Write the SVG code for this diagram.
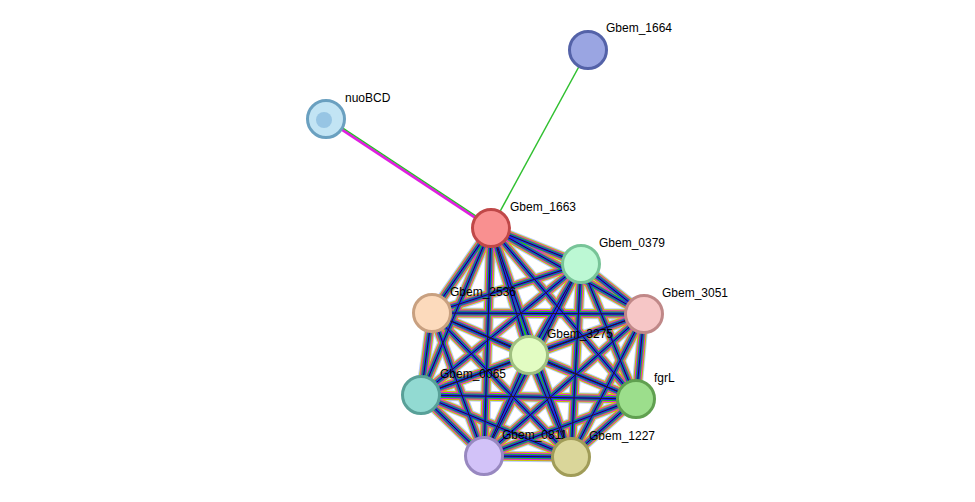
<svg xmlns="http://www.w3.org/2000/svg" xmlns:xlink="http://www.w3.org/1999/xlink" width="975" height="502" viewBox="0 0 975 502">
<style>
text{font-family:"Liberation Sans",Arial,sans-serif;font-size:12px;fill:#000}
.n{stroke-width:3}
</style>
<defs>
<g id="net" fill="none">
<path d="M491,228L581,264M491,228L644,314M491,228L432,313M491,228L529,355M491,228L421,395M491,228L636,399M491,228L484,456M491,228L571,457"/>
<path d="M581,264L644,314M581,264L432,313M581,264L529,355M581,264L421,395M581,264L636,399M581,264L484,456M581,264L571,457"/>
<path d="M644,314L432,313M644,314L529,355M644,314L421,395M644,314L636,399M644,314L484,456M644,314L571,457"/>
<path d="M432,313L529,355M432,313L421,395M432,313L636,399M432,313L484,456M432,313L571,457"/>
<path d="M529,355L421,395M529,355L636,399M529,355L484,456M529,355L571,457"/>
<path d="M421,395L636,399M421,395L484,456M421,395L571,457M636,399L484,456M636,399L571,457M484,456L571,457"/>
</g>
</defs>
<g id="connectors">
<use xlink:href="#net" stroke="#b8c8ff" stroke-width="11"/>
<use xlink:href="#net" stroke="#c8c800" stroke-width="9"/>
<use xlink:href="#net" stroke="#e020e0" stroke-width="7"/>
<use xlink:href="#net" stroke="#20c020" stroke-width="5"/>
<use xlink:href="#net" stroke="#2020ff" stroke-width="3"/>
<use xlink:href="#net" stroke="#202020" stroke-width="1"/>
<line x1="491" y1="228" x2="326" y2="119" stroke="#e020e0" stroke-width="3"/>
<line x1="491" y1="228" x2="326" y2="119" stroke="#20c020" stroke-width="1.2" transform="translate(1,-1.5)"/>
<line x1="491" y1="228" x2="588" y2="50" stroke="#30c030" stroke-width="1.5"/>
</g>
<g id="Gbem_1664"><circle class="n" cx="588" cy="50" r="18.5" fill="#9aa5e2" stroke="#5462a8"/><text x="606" y="32">Gbem_1664</text></g>
<g id="nuoBCD"><circle class="n" cx="326" cy="119" r="18.5" fill="#c2e4f4" stroke="#6aa0c0"/><circle cx="324" cy="120" r="8" fill="#7ab0d8" opacity="0.6"/><text x="345" y="102">nuoBCD</text></g>
<g id="Gbem_1663"><circle class="n" cx="491" cy="228" r="18.5" fill="#f99090" stroke="#c04848"/><text x="510" y="211">Gbem_1663</text></g>
<g id="Gbem_0379"><circle class="n" cx="581" cy="264" r="18.5" fill="#bcf8d4" stroke="#78c498"/><text x="599" y="247">Gbem_0379</text></g>
<g id="Gbem_3051"><circle class="n" cx="644" cy="314" r="18.5" fill="#f6c6c6" stroke="#c08888"/><text x="662" y="297">Gbem_3051</text></g>
<g id="Gbem_2536"><circle class="n" cx="432" cy="313" r="18.5" fill="#fcdabc" stroke="#c8a080"/><text x="450" y="296">Gbem_2536</text></g>
<g id="Gbem_3275"><circle class="n" cx="529" cy="355" r="18.5" fill="#e2fcc2" stroke="#a0c080"/><text x="547" y="338">Gbem_3275</text></g>
<g id="Gbem_0065"><circle class="n" cx="421" cy="395" r="18.5" fill="#92dad2" stroke="#58a098"/><text x="440" y="378">Gbem_0065</text></g>
<g id="fgrL"><circle class="n" cx="636" cy="399" r="18.5" fill="#9cde8c" stroke="#60a050"/><text x="654" y="382">fgrL</text></g>
<g id="Gbem_0811"><circle class="n" cx="484" cy="456" r="18.5" fill="#d2c2f8" stroke="#9888c0"/><text x="502" y="439">Gbem_0811</text></g>
<g id="Gbem_1227"><circle class="n" cx="571" cy="457" r="18.5" fill="#dad69a" stroke="#a09c58"/><text x="589" y="440">Gbem_1227</text></g>
</svg>
